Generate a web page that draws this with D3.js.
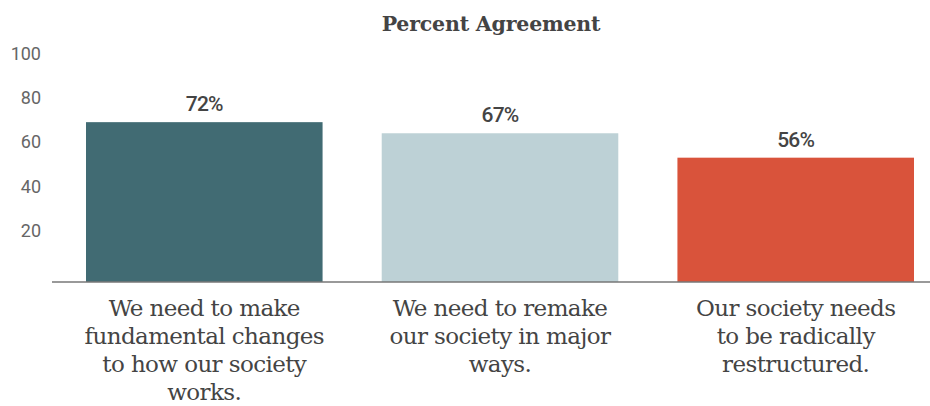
<!DOCTYPE html>
<html>
<head>
<meta charset="utf-8">
<script src="https://cdn.jsdelivr.net/npm/d3@7"></script>
<style>
  html, body { margin: 0; padding: 0; background: #fff; }
  svg { display: block; }
</style>
</head>
<body>
<script>
// Survey statements, each split into the lines shown under its bar
const categories = [
  ["We need to make", "fundamental changes", "to how our society", "works."],
  ["We need to remake", "our society in major", "ways."],
  ["Our society needs", "to be radically", "restructured."]
];
const values = [72, 67, 56];
const barColors = ["#416b73", "#bdd1d6", "#d9533b"];
const yTicks = [20, 40, 60, 80, 100];
const title = "Percent Agreement";

const W = 930, H = 406;
const svg = d3.select("body").append("svg").attr("width", W).attr("height", H);

const x = d3.scaleBand()
  .domain(d3.range(values.length))
  .range([86, 914])
  .paddingInner(0.2)
  .paddingOuter(0);

const y = d3.scaleLinear().domain([0, 100]).range([282, 60]);

// Title
svg.append("text")
  .attr("x", 491).attr("y", 31)
  .attr("text-anchor", "middle")
  .attr("font-family", "'DejaVu Serif', serif")
  .attr("font-weight", "bold")
  .attr("font-size", 20.5)
  .attr("letter-spacing", -0.2)
  .attr("fill", "#444")
  .text(title);

// Y axis: labels only, no domain line or tick marks
const yAxis = svg.append("g")
  .attr("transform", "translate(41,0)")
  .call(d3.axisLeft(y).tickValues(yTicks).tickSize(0).tickPadding(0));
yAxis.select(".domain").remove();
yAxis.selectAll("text")
  .attr("dy", "-0.05em")
  .attr("font-family", "Roboto, sans-serif")
  .attr("font-size", 18)
  .attr("fill", "#666");

// Bars
svg.append("g").selectAll("rect")
  .data(values)
  .join("rect")
  .attr("x", (d, i) => x(i))
  .attr("width", x.bandwidth())
  .attr("y", d => y(d))
  .attr("height", d => y(0) - y(d))
  .attr("fill", (d, i) => barColors[i]);

// Value labels
svg.append("g").selectAll("text")
  .data(values)
  .join("text")
  .attr("x", (d, i) => x(i) + x.bandwidth() / 2)
  .attr("y", d => y(d) - 11)
  .attr("text-anchor", "middle")
  .attr("font-family", "Roboto, sans-serif")
  .attr("font-weight", 500)
  .attr("font-size", 21)
  .attr("letter-spacing", -0.8)
  .attr("fill", "#444")
  .text(d => d + "%");

// Baseline
svg.append("line")
  .attr("x1", 52).attr("x2", W)
  .attr("y1", y(0)).attr("y2", y(0))
  .attr("stroke", "#777")
  .attr("stroke-width", 1.5);

// Category labels
const cat = svg.append("g").selectAll("text")
  .data(categories)
  .join("text")
  .attr("text-anchor", "middle")
  .attr("font-family", "'DejaVu Serif', serif")
  .attr("font-size", 23)
  .attr("letter-spacing", -0.6)
  .attr("fill", "#444");
cat.each(function(lines, i) {
  const t = d3.select(this);
  lines.forEach((ln, k) => {
    t.append("tspan")
      .attr("x", x(i) + x.bandwidth() / 2)
      .attr("y", 316 + k * 28)
      .text(ln);
  });
});
</script>
</body>
</html>
